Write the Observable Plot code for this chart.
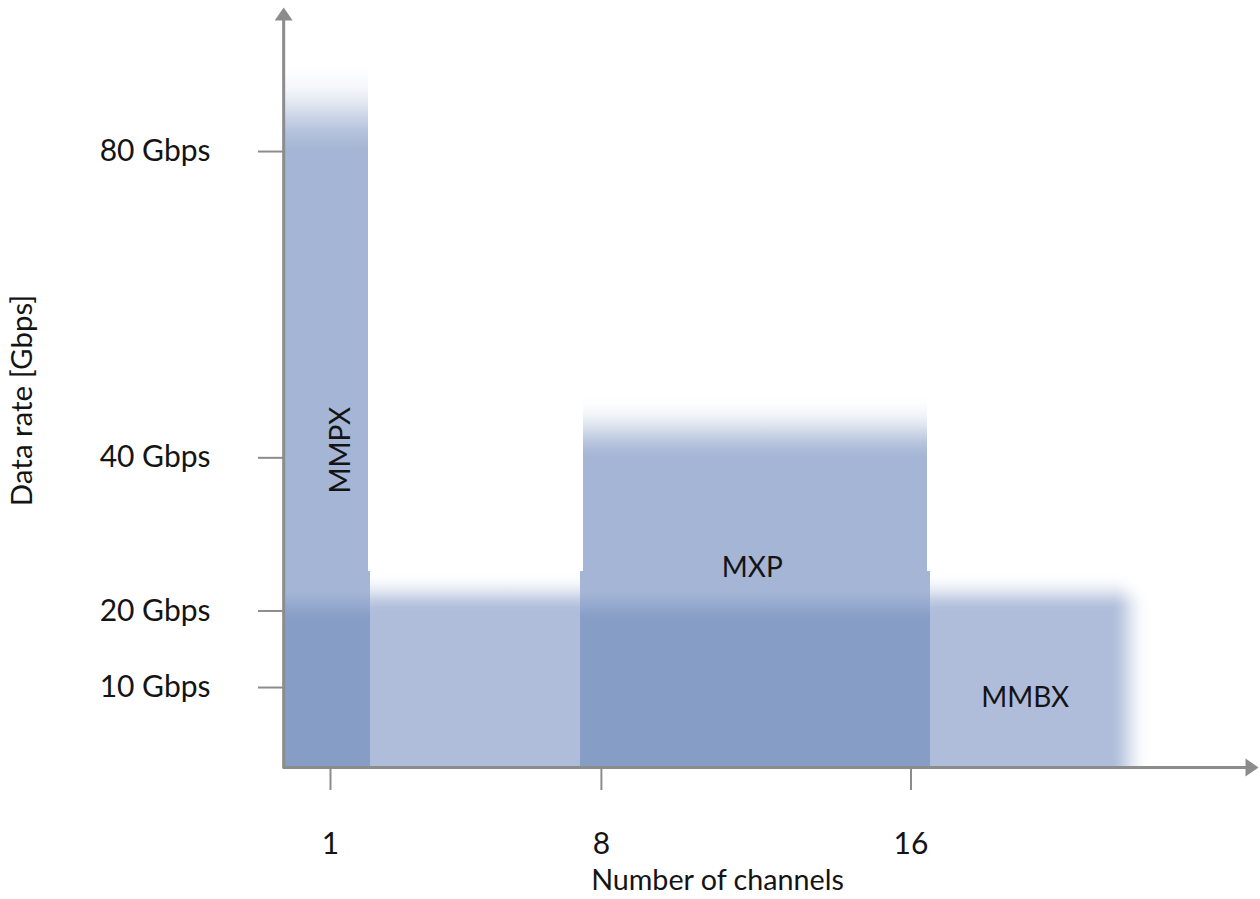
<!DOCTYPE html>
<html><head><meta charset="utf-8">
<script src="https://cdn.jsdelivr.net/npm/d3@7"></script>
<script src="https://cdn.jsdelivr.net/npm/@observablehq/plot@0.6"></script>
<style>
html,body{margin:0;padding:0;background:#fff;overflow:hidden;}
</style></head><body><div id="chart"></div>
<script>
// ---- data ----
const connectors    = ["MMPX", "MXP", "MMBX"];
const channelsFrom  = [-0.19, 7.53, -0.21];   // left edge (channels)
const channelsTo    = [1.98, 16.42, 21.2];    // right edge (channels)
const rateSolid     = [80, 40, 20];           // Gbps, fully coloured up to here
const rateFade      = [91.5, 48, 25];         // Gbps, faded out by here
const labelChannels = [1.27, 11.9, 18.95];
const labelRate     = [41, 25.6, 8.6];
const labelRotate   = [-90, 0, 0];

// overlap of the MMPX / MXP bars with the MMBX band
const overlapFrom = [-0.21, 7.46];
const overlapTo   = [2.03, 16.5];
const overlapDark = [19, 19];
const overlapTop  = [25.2, 25.2];

const mmbxFadeRight = 22.2;   // channels where the MMBX band has faded out

const xTicks = [1, 8, 16];
const yTicks = [10, 20, 40, 80];
const xTitle = "Number of channels";
const yTitle = "Data rate [Gbps]";
const xTitleAt = [11.0, -15.3];   // [channels, Gbps]
const yTitleAt = [-6.96, 47.5];
const axisOriginX = -0.21;   // channels
const axisOriginY = -0.44;   // Gbps
const axisEndX = 24.98;
const axisEndY = 98.8;

// ---- tables built from the arrays ----
const bands = connectors.map((name, i) => ({
  name, from: channelsFrom[i], to: channelsTo[i], solid: rateSolid[i], fade: rateFade[i],
  lx: labelChannels[i], ly: labelRate[i], rot: labelRotate[i]
}));
const mmbx = bands.filter(d => d.name === "MMBX");
const bars = bands.filter(d => d.name !== "MMBX");
const overlaps = overlapFrom.map((f, i) => ({from: f, to: overlapTo[i], dark: overlapDark[i], top: overlapTop[i]}));

const colBand = "#afbdda";
const colBar = "#a4b5d5";
const colDark = "#869dc6";
const axisCol = "#8c8c8c";
const textCol = "#141414";
const font = "Lato, 'Open Sans', sans-serif";
const crisp = {shapeRendering: "crispEdges"};

function defs() {
  const d = d3.create("svg:defs");
  const fadeStops = [[0,0],[0.15,0.04],[0.3,0.14],[0.45,0.32],[0.6,0.55],[0.75,0.78],[0.9,0.94],[1,1]];
  function lin(id, color, x1, y1, x2, y2) {
    const g = d.append("linearGradient").attr("id", id)
      .attr("x1", x1).attr("y1", y1).attr("x2", x2).attr("y2", y2);
    for (const [o, a] of fadeStops) g.append("stop").attr("offset", o).attr("stop-color", color).attr("stop-opacity", a);
  }
  lin("fadeBar", colBar, 0, 0, 0, 1);
  lin("fadeBand", colBand, 0, 0, 0, 1);
  lin("fadeBandRight", colBand, 1, 0, 0, 0);
  const r = d.append("radialGradient").attr("id", "fadeBandCorner")
    .attr("cx", 0).attr("cy", 1).attr("r", 1).attr("fx", 0).attr("fy", 1);
  for (const [o, a] of fadeStops.slice().reverse()) r.append("stop").attr("offset", 1 - o).attr("stop-color", colBand).attr("stop-opacity", a);
  const ov = d.append("linearGradient").attr("id", "overlapTop").attr("x1", 0).attr("y1", 0).attr("x2", 0).attr("y2", 1);
  for (const [o, c] of [[0, colBar],[0.45, colBar],[0.7, "#97aacf"],[1, colDark]]) ov.append("stop").attr("offset", o).attr("stop-color", c);
  return d.node();
}

const arrowHead = {
  draw(ctx) { ctx.moveTo(0, 0); ctx.lineTo(-9, 13); ctx.lineTo(9, 13); ctx.closePath(); }
};

const chart = Plot.plot({
  width: 1260, height: 899,
  marginLeft: 283, marginBottom: 132, marginTop: 8, marginRight: 109,
  x: {domain: [0, 24], range: [291.3, 291.3 + 38.7 * 24]},
  y: {domain: [0, 80], range: [763.6, 763.6 - 7.657 * 80]},
  style: {fontFamily: font, color: textCol, background: "#fff"},
  marks: [
    defs,
    // MMBX band
    Plot.rect(mmbx, {x1: "from", x2: "to", y1: () => axisOriginY, y2: "solid", fill: colBand, ...crisp}),
    Plot.rect(mmbx, {x1: "from", x2: "to", y1: "solid", y2: "fade", fill: "url(#fadeBand)", ...crisp}),
    Plot.rect(mmbx, {x1: "to", x2: () => mmbxFadeRight, y1: () => axisOriginY, y2: "solid", fill: "url(#fadeBandRight)", ...crisp}),
    Plot.rect(mmbx, {x1: "to", x2: () => mmbxFadeRight, y1: "solid", y2: "fade", fill: "url(#fadeBandCorner)", ...crisp}),
    // MMPX, MXP bars
    Plot.rect(bars, {x1: "from", x2: "to", y1: () => axisOriginY, y2: "solid", fill: colBar, ...crisp}),
    Plot.rect(bars, {x1: "from", x2: "to", y1: "solid", y2: "fade", fill: "url(#fadeBar)", ...crisp}),
    // overlaps
    Plot.rect(overlaps, {x1: "from", x2: "to", y1: () => axisOriginY - 0.25, y2: "dark", fill: colDark, ...crisp}),
    Plot.rect(overlaps, {x1: "from", x2: "to", y1: "dark", y2: "top", fill: "url(#overlapTop)", ...crisp}),
    // axes
    Plot.axisX({ticks: xTicks, tickSize: 23, tickPadding: 42, stroke: axisCol, strokeWidth: 2,
      fill: textCol, fontSize: 30, label: null, tickFormat: d => String(d)}),
    Plot.axisY({ticks: yTicks, tickSize: 25, tickPadding: 48, stroke: axisCol, strokeWidth: 2,
      fill: textCol, fontSize: 30, label: null, tickFormat: d => `${d} Gbps`}),
    Plot.ruleY([axisOriginY], {x1: axisOriginX, x2: axisEndX - 0.3, stroke: axisCol, strokeWidth: 3}),
    Plot.ruleX([axisOriginX], {y1: axisOriginY - 0.2, y2: axisEndY - 1.6, stroke: axisCol, strokeWidth: 3}),
    Plot.dot([[axisEndX, axisOriginY]], {x: d => d[0], y: d => d[1], symbol: arrowHead, rotate: 90, fill: axisCol, stroke: null}),
    Plot.dot([[axisOriginX, axisEndY]], {x: d => d[0], y: d => d[1], symbol: arrowHead, rotate: 0, fill: axisCol, stroke: null}),
    // labels
    Plot.text(bands, {x: "lx", y: "ly", text: "name", rotate: "rot", fontSize: 28, fill: textCol}),
    Plot.text([xTitle], {x: () => xTitleAt[0], y: () => xTitleAt[1], text: d => d, fontSize: 28.7, fill: textCol}),
    Plot.text([yTitle], {x: () => yTitleAt[0], y: () => yTitleAt[1], text: d => d, rotate: -90, fontSize: 29.5, fill: textCol})
  ]
});
document.getElementById("chart").appendChild(chart);
</script>
</body></html>
